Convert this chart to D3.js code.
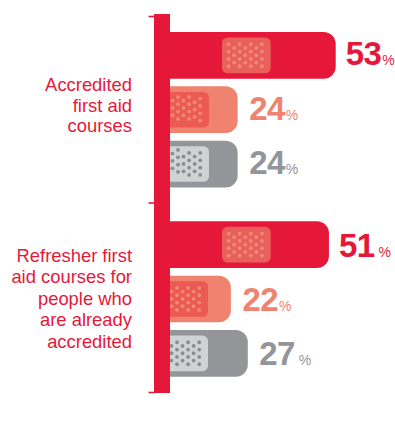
<!DOCTYPE html>
<html>
<head>
<meta charset="utf-8">
<script src="https://cdn.jsdelivr.net/npm/d3@7"></script>
<style>
  html, body { margin: 0; padding: 0; background: #fff; }
  svg { display: block; font-family: "Liberation Sans", sans-serif; }
</style>
</head>
<body>
<div id="plot"></div>
<script>
// Values
const groups = ["Accredited first aid courses", "Refresher first aid courses for people who are already accredited"];
const groupLines = [
    ["Accredited", "first aid", "courses"],
    ["Refresher first", "aid courses for", "people who", "are already", "accredited"]
];
const seriesNames = ["a", "b", "c"];
const accreditedValues = [53, 24, 24];
const refresherValues = [51, 22, 27];
const seriesColors = ["#e5183a", "#f0836f", "#939598"];
const patchColors = ["#e9605a", "#ec5a55", "#d1d2d4"];
const dotColors = ["#f08a78", "#f08a78", "#8b8d90"];

const width = 395;
const height = 435;

const svg = d3.select("#plot")
    .append("svg")
    .attr("width", width)
    .attr("height", height)
    .attr("viewBox", [0, 0, width, height]);

// Scales
const x = d3.scaleLinear().domain([0, 53]).range([156.5, 335.7]);

const yGroup = d3.scaleOrdinal().domain(groups).range([32, 221.3]);
const yBar = d3.scaleBand().domain(seriesNames).range([0, 155.4]).paddingInner(0.141).paddingOuter(0);

const rows = [
    { group: groups[0], lines: groupLines[0], values: accreditedValues, shortPatchRight: 209, textY: 90.7, lineStep: 20.8, labelDrop: 10, holeShift: [0, 1.7, 3] },
    { group: groups[1], lines: groupLines[1], values: refresherValues, shortPatchRight: 208, textY: 261.7, lineStep: 21.6, labelDrop: 12, holeShift: [0, 0, 0] }
];

const rowG = svg.selectAll("g.row")
    .data(rows)
    .join("g")
    .attr("class", "row")
    .attr("transform", d => `translate(0,${yGroup(d.group)})`);

const barG = rowG.selectAll("g.bar")
    .data(r => r.values.map((value, i) => ({
        value, i,
        name: seriesNames[i],
        patchRight: i === 0 ? 270.7 : r.shortPatchRight,
        labelDrop: r.labelDrop,
        holeShift: r.holeShift[i]
    })))
    .join("g")
    .attr("class", "bar")
    .attr("transform", d => `translate(0,${yBar(d.name)})`);

// Bars
barG.append("rect")
    .attr("x", x(0))
    .attr("width", d => x(d.value) - x(0))
    .attr("height", yBar.bandwidth())
    .attr("rx", 12)
    .attr("fill", d => seriesColors[d.i]);

// Plaster pad
const patchW = 48.7;
const patchH = 35.6;
barG.append("rect")
    .attr("x", d => d.patchRight - patchW)
    .attr("y", (yBar.bandwidth() - patchH) / 2)
    .attr("width", patchW)
    .attr("height", patchH)
    .attr("rx", 5.5)
    .attr("fill", d => patchColors[d.i]);

// Plaster holes, staggered. The left columns sit a little higher on the first group's short bars
const holes = d3.cross(d3.range(7), d3.range(7)).filter(([c, r]) => (c + r) % 2 === 0);
barG.selectAll("circle")
    .data(d => holes.map(([c, r]) => ({ c, r, d })))
    .join("circle")
    .attr("cx", h => h.d.patchRight - patchW + 6.6 + h.c * 5.55)
    .attr("cy", h => (yBar.bandwidth() - patchH) / 2 + 6.7 + h.r * 3.67 - (h.c <= (h.d.i === 1 ? 4 : 2) ? h.d.holeShift : 0))
    .attr("r", 1.9)
    .attr("fill", h => dotColors[h.d.i]);

// Value labels
const valueText = barG.append("text")
    .attr("x", d => x(d.value) + (d.i === 0 ? 10 : 11.5))
    .attr("y", d => yBar.bandwidth() / 2 + d.labelDrop)
    .attr("fill", d => seriesColors[d.i]);

valueText.append("tspan")
    .attr("font-size", 33)
    .attr("font-weight", "bold")
    .attr("letter-spacing", -0.6)
    .text(d => d.value);

valueText.append("tspan")
    .attr("font-size", 14)
    .attr("dx", d => (d.value === 51 || d.value === 27) ? 4 : 1)
    .text("%");

// Left labels
rowG.each(function(r) {
    d3.select(this).selectAll("text.label")
        .data(r.lines)
        .join("text")
        .attr("class", "label")
        .attr("x", 132)
        .attr("y", (d, i) => r.textY - yGroup(r.group) + i * r.lineStep)
        .attr("text-anchor", "end")
        .attr("font-size", 18.4)
        .attr("fill", "#e5183a")
        .text(d => d);
});

// Axis bracket
const yAxisScale = d3.scalePoint().domain(["top", "mid", "bottom"]).range([16, 392]);
const spine = svg.append("g");
spine.append("rect")
    .attr("x", 154)
    .attr("y", yAxisScale("top") - 2)
    .attr("width", 16)
    .attr("height", yAxisScale("bottom") - yAxisScale("top") + 3)
    .attr("fill", "#e5183a");

spine.append("g")
    .attr("transform", "translate(154.5,0)")
    .call(d3.axisLeft(d3.scaleOrdinal().domain(["top", "mid", "bottom"]).range([16, 202.5, 392])).tickSize(6).tickFormat(""))
    .call(g => g.select(".domain").remove())
    .call(g => g.selectAll("line").attr("stroke", "#e5183a").attr("stroke-width", 1.6));
</script>
</body>
</html>
